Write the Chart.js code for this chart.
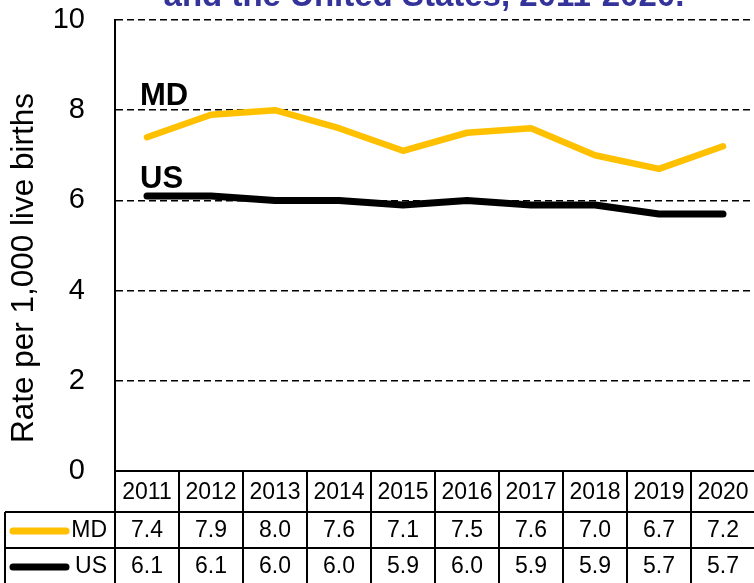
<!DOCTYPE html>
<html>
<head>
<meta charset="utf-8">
<script src="https://cdn.jsdelivr.net/npm/chart.js@4.4.1/dist/chart.umd.min.js"></script>
<style>
  html, body { margin: 0; padding: 0; background: #fff; overflow: hidden; }
  #wrap { width: 760px; height: 583px; position: relative; }
</style>
</head>
<body>
<div id="wrap"><canvas id="graphCanvas" width="760" height="583"></canvas></div>
<script>
// data
const years = ['2011', '2012', '2013', '2014', '2015', '2016', '2017', '2018', '2019', '2020'];
const mdRates = [7.4, 7.9, 8.0, 7.6, 7.1, 7.5, 7.6, 7.0, 6.7, 7.2];
const usRates = [6.1, 6.1, 6.0, 6.0, 5.9, 6.0, 5.9, 5.9, 5.7, 5.7];
const seriesNames = ['MD', 'US'];
const seriesColors = ['#FFC000', '#000000'];
const yTicks = [0, 2, 4, 6, 8, 10];

const FONT = 'Arial, "Liberation Sans", sans-serif';

// title, axis label, series labels and the data table under the plot
const extras = {
  id: 'extras',
  afterDraw(chart) {
    const { ctx, chartArea, scales } = chart;
    const x = scales.x;
    const colW = (chartArea.right - chartArea.left) / years.length;
    const top = chartArea.bottom;
    const rowH = [41, 36, 36];

    ctx.save();
    // title (cut off at the top)
    ctx.fillStyle = '#333399';
    ctx.font = 'bold 33px ' + FONT;
    ctx.textAlign = 'center';
    ctx.textBaseline = 'alphabetic';
    ctx.fillText('and the United States, 2011-2020.', 424, 6);

    // y axis title
    ctx.save();
    ctx.translate(24, 268);
    ctx.rotate(-Math.PI / 2);
    ctx.fillStyle = '#000';
    ctx.font = '31.5px ' + FONT;
    ctx.textAlign = 'center';
    ctx.textBaseline = 'middle';
    ctx.fillText('Rate per 1,000 live births', 0, 0);
    ctx.restore();

    // series labels inside plot
    ctx.fillStyle = '#000';
    ctx.font = 'bold 31px ' + FONT;
    ctx.textAlign = 'left';
    ctx.fillText('MD', 140, 105);
    ctx.fillText('US', 140, 188);

    // table grid
    ctx.strokeStyle = '#000';
    ctx.lineWidth = 2;
    const y1 = top + rowH[0];
    const y2 = y1 + rowH[1];
    const y3 = y2 + rowH[2];
    ctx.beginPath();
    ctx.moveTo(5, y1); ctx.lineTo(chartArea.right, y1);
    ctx.moveTo(5, y2); ctx.lineTo(chartArea.right, y2);
    ctx.moveTo(5, y3); ctx.lineTo(chartArea.right, y3);
    ctx.moveTo(5, y1); ctx.lineTo(5, y3);
    ctx.moveTo(chartArea.left, top); ctx.lineTo(chartArea.left, y3);
    for (let i = 0; i < years.length; i++) {
      const bx = x.getPixelForValue(i) + colW / 2;
      ctx.moveTo(bx, top); ctx.lineTo(bx, y3);
    }
    ctx.stroke();

    // table text
    ctx.font = '23px ' + FONT;
    ctx.textAlign = 'center';
    ctx.textBaseline = 'middle';
    const rows = [mdRates, usRates];
    years.forEach((yr, i) => {
      const cx = x.getPixelForValue(i);
      ctx.fillText(yr, cx, top + rowH[0] / 2 + 1);
      rows.forEach((vals, r) => {
        const cy = y1 + rowH[1] * r + rowH[1] / 2 + 1;
        ctx.fillText(vals[i].toFixed(1), cx, cy);
      });
    });

    // legend keys in the table
    seriesNames.forEach((name, r) => {
      const cy = y1 + rowH[1] * r + rowH[1] / 2 + 1;
      ctx.strokeStyle = seriesColors[r];
      ctx.lineWidth = 7;
      ctx.lineCap = 'round';
      ctx.beginPath();
      ctx.moveTo(13, cy); ctx.lineTo(66, cy);
      ctx.stroke();
      ctx.textAlign = 'right';
      ctx.fillStyle = '#000';
      ctx.fillText(name, 107, cy);
    });
    ctx.restore();
  }
};

const ctx = document.getElementById('graphCanvas');

new Chart(ctx, {
  type: 'line',
  data: {
    labels: years,
    datasets: [{
      label: seriesNames[0],
      data: mdRates,
      borderColor: seriesColors[0],
      borderWidth: 6.5
    }, {
      label: seriesNames[1],
      data: usRates,
      borderColor: seriesColors[1],
      borderWidth: 7
    }]
  },
  options: {
    responsive: false,
    animation: false,
    devicePixelRatio: 1,
    layout: { padding: { top: 20, right: 5, bottom: 112, left: 0 } },
    elements: {
      point: { radius: 0 },
      line: { tension: 0, borderCapStyle: 'round', borderJoinStyle: 'round' }
    },
    plugins: {
      legend: { display: false },
      tooltip: { enabled: false }
    },
    scales: {
      x: {
        offset: true,
        grid: { color: 'rgba(0,0,0,0)', drawTicks: false },
        border: { color: '#000', width: 2 },
        ticks: { display: false },
        afterFit(scale) { scale.height = 0; scale.paddingLeft = 0; scale.paddingRight = 0; }
      },
      y: {
        min: 0,
        max: 10,
        afterBuildTicks(scale) { scale.ticks = yTicks.map(v => ({ value: v })); },
        grid: {
          color: c => (c.tick && c.tick.value === 0 ? 'rgba(0,0,0,0)' : '#000'),
          lineWidth: 1.5,
          drawTicks: false
        },
        border: { color: '#000', width: 2, dash: [7, 4] },
        ticks: {
          color: '#000',
          padding: 30,
          font: { family: FONT, size: 29 }
        },
        afterFit(scale) { scale.width = 115; scale.paddingTop = 0; scale.paddingBottom = 0; }
      }
    }
  },
  plugins: [extras]
});
</script>
</body>
</html>
